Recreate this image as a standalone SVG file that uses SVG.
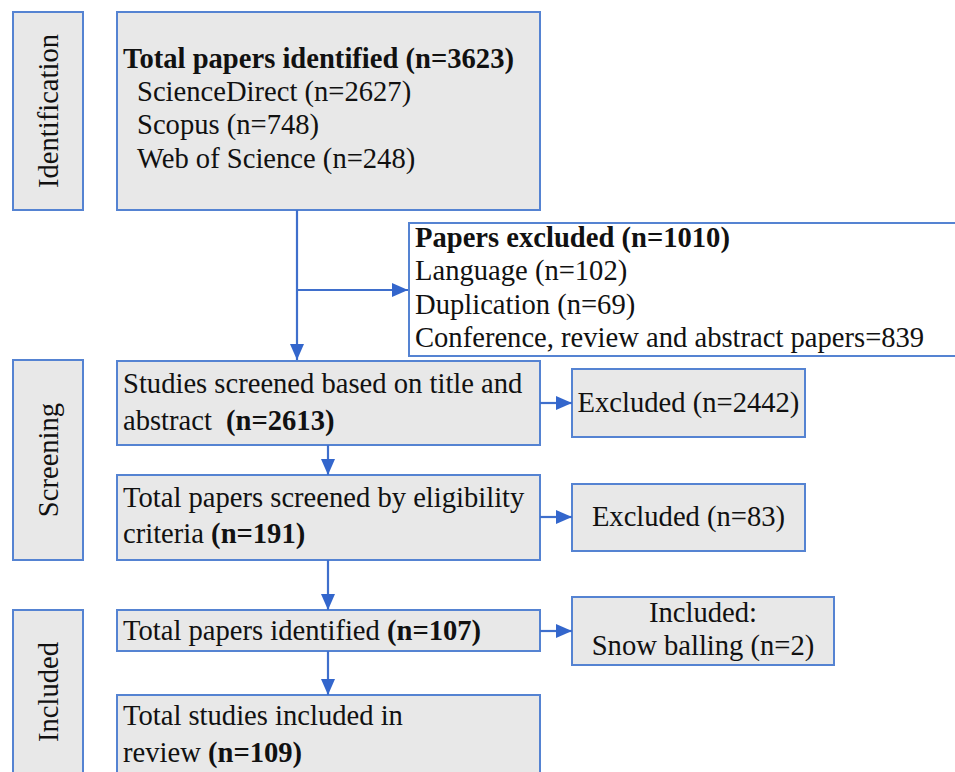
<svg xmlns="http://www.w3.org/2000/svg" width="955" height="772" viewBox="0 0 955 772">
<style>
.box{fill:#e8e8e8;stroke:#5583d2;stroke-width:2}
.wbox{fill:#ffffff;stroke:#5583d2;stroke-width:2}
.t{font-family:"Liberation Serif","Times New Roman",serif;font-size:28.6px;fill:#111}
.b{font-weight:bold}
.c{text-anchor:middle}
.ln{stroke:#3f6fcc;stroke-width:2.2;fill:none}
</style>
<defs>
<marker id="ah" viewBox="0 0 16 14" refX="16" refY="7" markerWidth="16" markerHeight="14" markerUnits="userSpaceOnUse" orient="auto">
<path d="M0,0 L16,7 L0,14 Z" fill="#3366cc"/>
</marker>
</defs>
<rect width="955" height="772" fill="#ffffff"/>

<g id="stage-identification">
<rect class="box" x="13" y="12" width="70" height="198"/>
<text class="t c" transform="translate(58,111) rotate(-90)">Identification</text>
</g>
<g id="stage-screening">
<rect class="box" x="13" y="360" width="70" height="200"/>
<text class="t c" transform="translate(58,460) rotate(-90)">Screening</text>
</g>
<g id="stage-included">
<rect class="box" x="13" y="610" width="70" height="170"/>
<text class="t c" transform="translate(58,692) rotate(-90)">Included</text>
</g>

<g id="node-identified">
<rect class="box" x="117" y="12" width="423" height="198"/>
<text class="t b" x="123" y="68">Total papers identified (n=3623)</text>
<text class="t" x="137" y="101">ScienceDirect (n=2627)</text>
<text class="t" x="137" y="134">Scopus (n=748)</text>
<text class="t" x="137" y="168">Web of Science (n=248)</text>
</g>

<g id="node-papers-excluded">
<rect class="wbox" x="409" y="223" width="570" height="133"/>
<text class="t b" x="415" y="247">Papers excluded (n=1010)</text>
<text class="t" x="415" y="280">Language (n=102)</text>
<text class="t" x="415" y="314">Duplication (n=69)</text>
<text class="t" x="415" y="347">Conference, review and abstract papers=839</text>
</g>

<g id="node-screened-title">
<rect class="box" x="117" y="361" width="423" height="84"/>
<text class="t" x="123" y="393">Studies screened based on title and</text>
<text class="t" x="123" y="430">abstract <tspan class="b" dx="7">(n=2613)</tspan></text>
</g>

<g id="node-excluded-2442">
<rect class="box" x="572" y="369" width="233" height="68"/>
<text class="t c" x="688.5" y="412">Excluded (n=2442)</text>
</g>

<g id="node-screened-eligibility">
<rect class="box" x="117" y="475" width="423" height="85"/>
<text class="t" x="123" y="507">Total papers screened by eligibility</text>
<text class="t" x="123" y="543">criteria <tspan class="b">(n=191)</tspan></text>
</g>

<g id="node-excluded-83">
<rect class="box" x="572" y="484" width="233" height="67"/>
<text class="t c" x="688.5" y="526">Excluded (n=83)</text>
</g>

<g id="node-identified-107">
<rect class="box" x="117" y="610" width="423" height="41"/>
<text class="t" x="123" y="640">Total papers identified <tspan class="b">(n=107)</tspan></text>
</g>

<g id="node-snowballing">
<rect class="box" x="572" y="597" width="262" height="68"/>
<text class="t c" x="703" y="622">Included:</text>
<text class="t c" x="703" y="655">Snow balling (n=2)</text>
</g>

<g id="node-included-109">
<rect class="box" x="117" y="695" width="423" height="85"/>
<text class="t" x="123" y="725">Total studies included in</text>
<text class="t" x="123" y="762">review <tspan class="b">(n=109)</tspan></text>
</g>

<g id="connectors">
<line class="ln" x1="297" y1="210" x2="297" y2="360" marker-end="url(#ah)"/>
<line class="ln" x1="297" y1="290" x2="408" y2="290" marker-end="url(#ah)"/>
<line class="ln" x1="328" y1="445" x2="328" y2="475" marker-end="url(#ah)"/>
<line class="ln" x1="328" y1="560" x2="328" y2="610" marker-end="url(#ah)"/>
<line class="ln" x1="328" y1="651" x2="328" y2="695" marker-end="url(#ah)"/>
<line class="ln" x1="540" y1="403" x2="572" y2="403" marker-end="url(#ah)"/>
<line class="ln" x1="540" y1="517" x2="572" y2="517" marker-end="url(#ah)"/>
<line class="ln" x1="540" y1="631" x2="572" y2="631" marker-end="url(#ah)"/>
</g>
</svg>
